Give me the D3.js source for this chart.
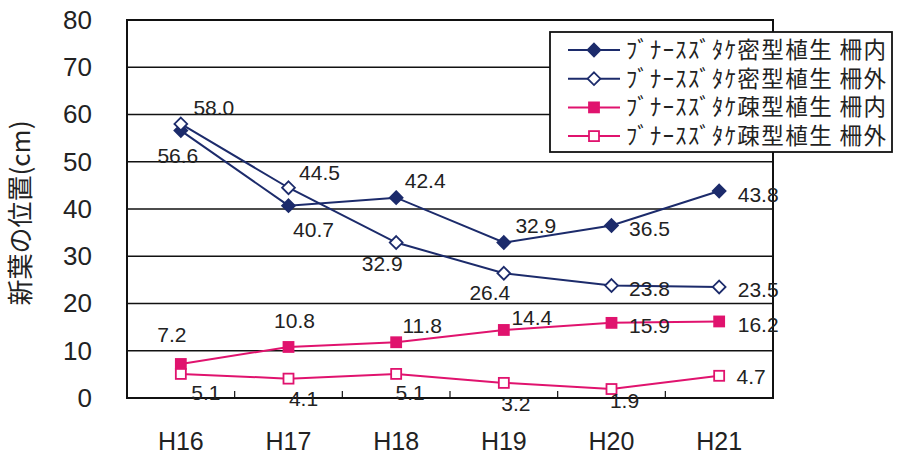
<!DOCTYPE html>
<html>
<head>
<meta charset="utf-8">
<script src="https://cdn.jsdelivr.net/npm/d3@7"></script>
<style>
  html, body { margin: 0; padding: 0; background: #fff; }
  svg { display: block; }
</style>
</head>
<body>
<svg id="chart" width="901" height="457"></svg>
<script>
// ---- data ----
const categories = ["H16", "H17", "H18", "H19", "H20", "H21"];
const denseInside  = [56.6, 40.7, 42.4, 32.9, 36.5, 43.8];
const denseOutside = [58.0, 44.5, 32.9, 26.4, 23.8, 23.5];
const sparseInside = [7.2, 10.8, 11.8, 14.4, 15.9, 16.2];
const sparseOutside = [5.1, 4.1, 5.1, 3.2, 1.9, 4.7];
const seriesNames = [
  "ﾌﾞﾅｰｽｽﾞﾀｹ密型植生 柵内",
  "ﾌﾞﾅｰｽｽﾞﾀｹ密型植生 柵外",
  "ﾌﾞﾅｰｽｽﾞﾀｹ疎型植生 柵内",
  "ﾌﾞﾅｰｽｽﾞﾀｹ疎型植生 柵外"
];
const yTicks = [0, 10, 20, 30, 40, 50, 60, 70, 80];
const yTitle = "新葉の位置(cm)";

// ---- layout / style (label offsets relative to points: [dx, dy]) ----
const navy = "#1c2b6b", pink = "#e0136e";
const labelOffsets = [
  [[-3, 32], [25, 31], [29, -10], [32, -10], [38, 10], [39, 11]],
  [[33, -9], [31, -8], [-14, 28], [-14, 27], [38, 10], [39, 10]],
  [[-9, -22], [6, -19], [26, -9], [28, -5], [38, 10], [39, 11]],
  [[25, 26], [15, 27], [14, 26], [12, 28], [13, 19], [32, 8]]
];
const series = [
  { name: seriesNames[0], values: denseInside,   color: navy, shape: "diamond", filled: true },
  { name: seriesNames[1], values: denseOutside,  color: navy, shape: "diamond", filled: false },
  { name: seriesNames[2], values: sparseInside,  color: pink, shape: "square",  filled: true },
  { name: seriesNames[3], values: sparseOutside, color: pink, shape: "square",  filled: false }
];

const plotL = 127, plotR = 773, plotT = 20, plotB = 398;
const svg = d3.select("#chart");

const x = d3.scaleBand().domain(categories).range([plotL, plotR]);
const y = d3.scaleLinear().domain([0, 80]).range([plotB, plotT]);
const cx = c => x(c) + x.bandwidth() / 2;

// gridlines
svg.append("g").selectAll("line").data(yTicks).join("line")
  .attr("x1", plotL).attr("x2", plotR)
  .attr("y1", d => y(d)).attr("y2", d => y(d))
  .attr("stroke", "#111").attr("stroke-width", 1.6);

// frame
svg.append("rect").attr("x", plotL).attr("y", plotT)
  .attr("width", plotR - plotL).attr("height", plotB - plotT)
  .attr("fill", "none").attr("stroke", "#111").attr("stroke-width", 2);

// y axis labels
const yAxis = d3.axisLeft(y).tickValues(yTicks).tickSize(0).tickPadding(35);
const ya = svg.append("g").attr("transform", `translate(${plotL},0)`).call(yAxis);
ya.select(".domain").remove();
ya.selectAll("text").attr("font-family", "Liberation Sans, Arial, sans-serif")
  .attr("font-size", 26).attr("fill", "#222");

// x axis: inner ticks at category boundaries + labels
const boundaries = categories.slice(1).map(c => x(c));
svg.append("g").selectAll("line").data(boundaries).join("line")
  .attr("x1", d => d).attr("x2", d => d)
  .attr("y1", plotB - 7).attr("y2", plotB)
  .attr("stroke", "#111").attr("stroke-width", 1.2);
svg.append("g").selectAll("text").data(categories).join("text")
  .attr("x", d => cx(d)).attr("y", 450)
  .attr("text-anchor", "middle")
  .attr("font-family", "Liberation Sans, Arial, sans-serif")
  .attr("font-size", 25).attr("fill", "#222")
  .text(d => d);

// y title
svg.append("text")
  .attr("transform", "translate(30,213) rotate(-90)")
  .attr("text-anchor", "middle")
  .attr("font-family", "Noto Sans CJK JP, sans-serif")
  .attr("font-size", 26).attr("fill", "#222")
  .text(yTitle);

// markers
function drawMarker(g, s, px, py, size) {
  if (s.shape === "diamond") {
    const r = size * 0.64;
    g.append("path")
      .attr("d", `M${px},${py - r}L${px + r},${py}L${px},${py + r}L${px - r},${py}Z`)
      .attr("fill", s.filled ? s.color : "#fff")
      .attr("stroke", s.color).attr("stroke-width", 1.8);
  } else {
    const h = size / 2;
    g.append("rect").attr("x", px - h).attr("y", py - h)
      .attr("width", size).attr("height", size)
      .attr("fill", s.filled ? s.color : "#fff")
      .attr("stroke", s.color).attr("stroke-width", 1.8);
  }
}

const line = d3.line().x((d, i) => cx(categories[i])).y(d => y(d));
series.forEach((s, si) => {
  const g = svg.append("g");
  g.append("path").datum(s.values).attr("d", line)
    .attr("fill", "none").attr("stroke", s.color).attr("stroke-width", 2);
  s.values.forEach((v, i) => drawMarker(g, s, cx(categories[i]), y(v), 10));
});

// data labels (drawn after all lines)
series.forEach((s, si) => {
  svg.append("g").selectAll("text").data(s.values).join("text")
    .attr("x", (d, i) => cx(categories[i]) + labelOffsets[si][i][0])
    .attr("y", (d, i) => y(d) + labelOffsets[si][i][1])
    .attr("text-anchor", "middle")
    .attr("font-family", "Liberation Sans, Arial, sans-serif")
    .attr("font-size", 21).attr("fill", "#222")
    .text(d => d.toFixed(1));
});

// legend
const lg = svg.append("g");
lg.append("rect").attr("x", 550).attr("y", 32).attr("width", 342).attr("height", 120)
  .attr("fill", "#fff").attr("stroke", "#111").attr("stroke-width", 1.8);
series.forEach((s, i) => {
  const ry = 50 + i * 28.7;
  lg.append("line").attr("x1", 568).attr("x2", 620).attr("y1", ry).attr("y2", ry)
    .attr("stroke", s.color).attr("stroke-width", 2);
  drawMarker(lg, s, 594, ry, 10);
  lg.append("text").attr("x", 626).attr("y", ry + 8)
    .attr("font-family", "Noto Sans CJK JP, sans-serif")
    .attr("font-size", 22.5).attr("fill", "#222")
    .attr("textLength", 260).attr("lengthAdjust", "spacing")
    .text(s.name);
});
</script>
</body>
</html>
